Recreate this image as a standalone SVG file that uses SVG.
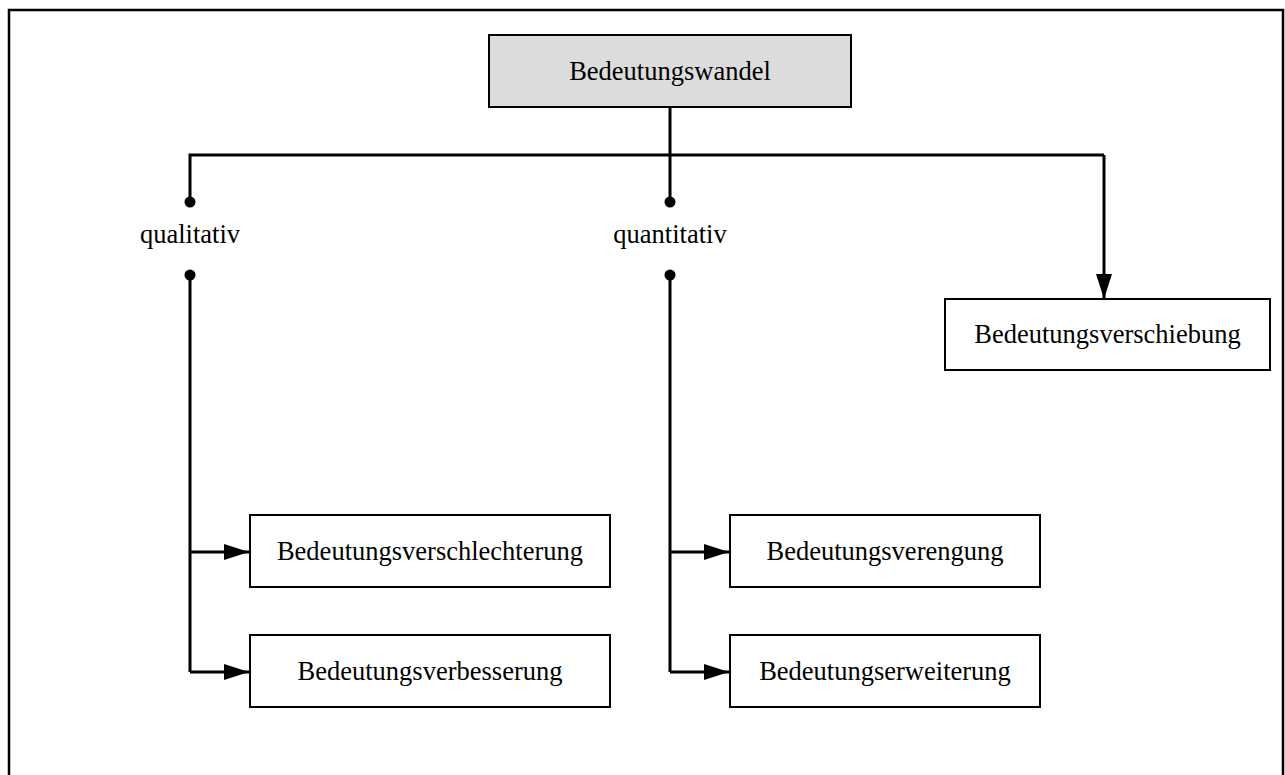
<svg xmlns="http://www.w3.org/2000/svg" width="1285" height="775" viewBox="0 0 1285 775">
  <style>
    .frame { fill: none; stroke: #000; stroke-width: 2.5; }
    .box { fill: #fff; stroke: #000; stroke-width: 2; }
    .root { fill: #dcdcdc; stroke: #000; stroke-width: 2; }
    .lbl { font-family: "Liberation Serif", "Times New Roman", serif; font-size: 26.5px; fill: #000; text-anchor: middle; }
    .wire { fill: none; stroke: #000; stroke-width: 3; }
    .arrow { marker-end: url(#head); }
  </style>
  <defs>
    <marker id="head" viewBox="0 0 25 16" refX="25" refY="8" markerWidth="25" markerHeight="16" markerUnits="userSpaceOnUse" orient="auto">
      <path d="M0,0 L25,8 L0,16 Z" fill="#000"/>
    </marker>
  </defs>

  <rect fill="#fff" x="0" y="0" width="1285" height="775"/>
  <rect class="frame" x="9" y="10" width="1274" height="800"/>

  <g id="connectors">
    <!-- trunk from the root and the distribution bar -->
    <path class="wire" d="M670,107 V155"/>
    <path class="wire" d="M190,202 V155 H1104"/>
    <path class="wire" d="M670,155 V202"/>
    <path class="wire arrow" d="M1104,155 V299"/>
    <!-- qualitative branch -->
    <path class="wire" d="M190,275 V672"/>
    <path class="wire arrow" d="M190,552 H249"/>
    <path class="wire arrow" d="M190,672 H249"/>
    <!-- quantitative branch -->
    <path class="wire" d="M670,275 V672"/>
    <path class="wire arrow" d="M670,552 H729"/>
    <path class="wire arrow" d="M670,672 H729"/>
    <!-- junction dots -->
    <circle cx="190" cy="202" r="5.5"/>
    <circle cx="190" cy="275" r="5.5"/>
    <circle cx="670" cy="202" r="5.5"/>
    <circle cx="670" cy="275" r="5.5"/>
  </g>

  <g id="bedeutungswandel">
    <rect class="root" x="489" y="35" width="362" height="72"/>
    <text class="lbl" x="670" y="80">Bedeutungswandel</text>
  </g>

  <g id="qualitativ">
    <text class="lbl" x="190" y="243">qualitativ</text>
  </g>

  <g id="quantitativ">
    <text class="lbl" x="670" y="243">quantitativ</text>
  </g>

  <g id="bedeutungsverschiebung">
    <rect class="box" x="945" y="299" width="325" height="71"/>
    <text class="lbl" x="1107.5" y="343">Bedeutungsverschiebung</text>
  </g>

  <g id="bedeutungsverschlechterung">
    <rect class="box" x="250" y="515" width="360" height="72"/>
    <text class="lbl" x="430" y="560">Bedeutungsverschlechterung</text>
  </g>

  <g id="bedeutungsverbesserung">
    <rect class="box" x="250" y="635" width="360" height="72"/>
    <text class="lbl" x="430" y="680">Bedeutungsverbesserung</text>
  </g>

  <g id="bedeutungsverengung">
    <rect class="box" x="730" y="515" width="310" height="72"/>
    <text class="lbl" x="885" y="560">Bedeutungsverengung</text>
  </g>

  <g id="bedeutungserweiterung">
    <rect class="box" x="730" y="635" width="310" height="72"/>
    <text class="lbl" x="885" y="680">Bedeutungserweiterung</text>
  </g>
</svg>
